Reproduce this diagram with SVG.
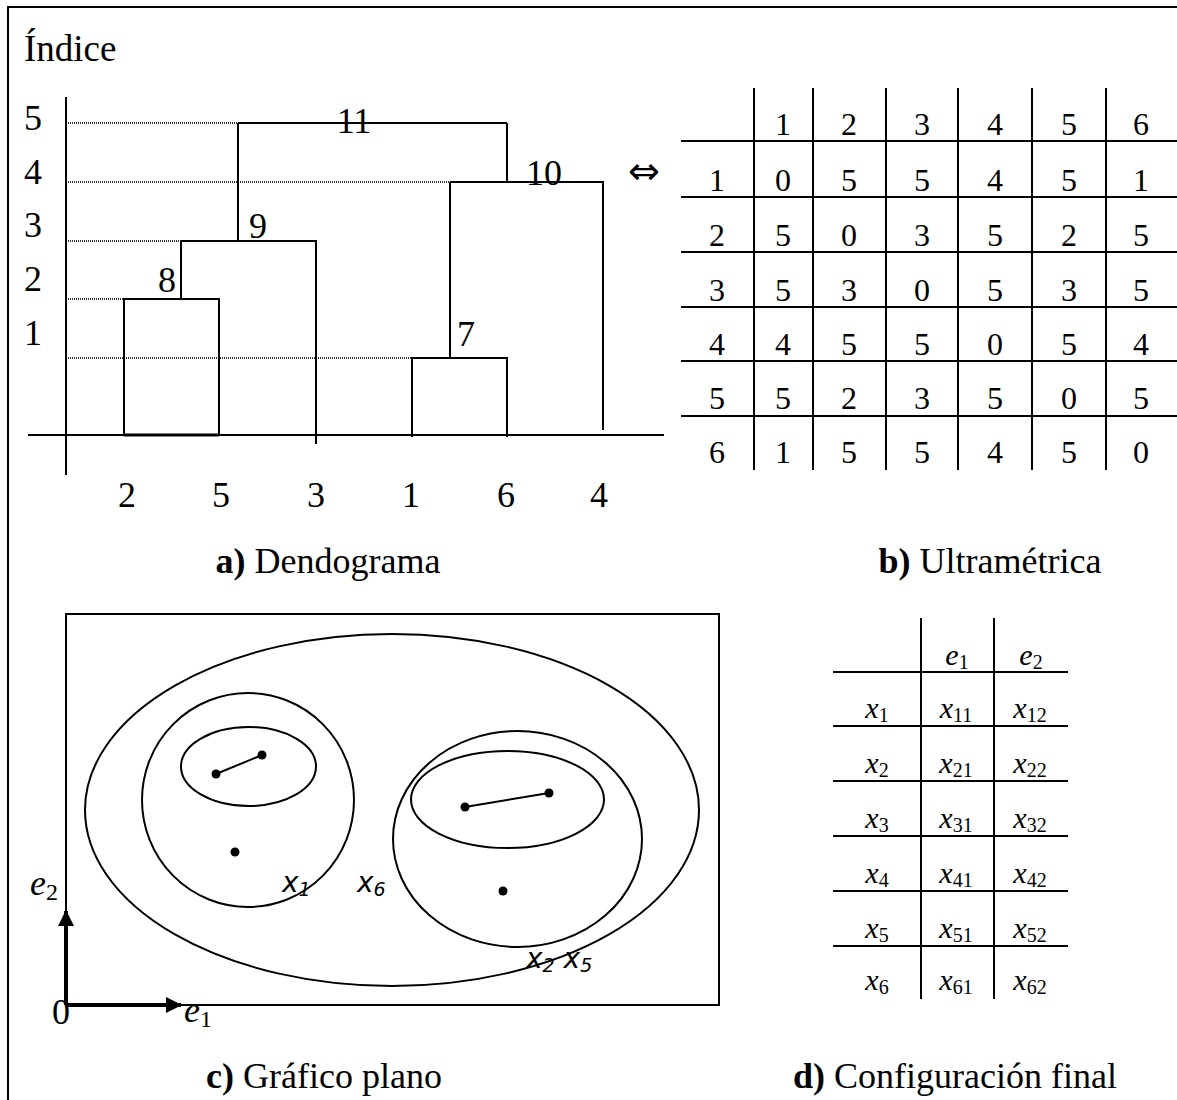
<svg xmlns="http://www.w3.org/2000/svg" width="1177" height="1100" viewBox="0 0 1177 1100">
<style>
.t{font-family:"Liberation Serif","Times New Roman",serif;fill:#000}
.big{font-size:36px}
.mid{text-anchor:middle}
.tb{font-size:32px;text-anchor:middle}
.ln{stroke:#000;stroke-width:2;fill:none}
.ax{stroke:#000;stroke-width:4;fill:none}
.dot{stroke:#333;stroke-width:2;stroke-dasharray:1 1;fill:none}
.sans{font-family:"DejaVu Sans","Liberation Sans",sans-serif;font-style:italic;font-size:28px;fill:#000}
.it{font-style:italic}
.pt{fill:#000}
</style>
<defs>
<marker id="ah" markerWidth="16" markerHeight="16" refX="15" refY="8" orient="auto" markerUnits="userSpaceOnUse">
<path d="M0,0 L16,8 L0,16 z" fill="#000"/>
</marker>
</defs>
<rect width="1177" height="1100" fill="#fff"/>
<path class="ln" d="M8,1100 V7 H1177"/>

<!-- a) Dendrogram -->
<g id="dendrogram">
<text class="t" font-size="37" x="24" y="61">Índice</text>
<g id="y-axis-labels" class="t big">
<text x="24" y="130">5</text>
<text x="24" y="184">4</text>
<text x="24" y="237">3</text>
<text x="24" y="291">2</text>
<text x="24" y="345">1</text>
</g>
<g id="levels">
<path class="dot" d="M66,123 H238"/>
<path class="dot" d="M66,182 H450"/>
<path class="dot" d="M66,241 H181"/>
<path class="dot" d="M66,299 H124"/>
<path class="dot" d="M66,358 H412"/>
</g>
<g id="axes">
<path class="ln" d="M28,435 H664"/>
<path class="ln" d="M66,97 V475"/>
</g>
<g id="connectors">
<g id="node8"><path class="ln" d="M124,435 V299 H219 V435"/><path class="ln" d="M181,299 V241"/><path stroke="#000" stroke-width="3" d="M124,435 H219"/><text class="t big mid" x="167" y="292">8</text></g>
<g id="node9"><path class="ln" d="M181,241 H316 V444"/><path class="ln" d="M238,241 V123"/><text class="t big mid" x="258" y="238">9</text></g>
<g id="node7"><path class="ln" d="M412,437 V358 H507 V437"/><path class="ln" d="M450,358 V182"/><text class="t big mid" x="466" y="346">7</text></g>
<g id="node10"><path class="ln" d="M450,182 H603 V430"/><path class="ln" d="M507,182 V123"/><text class="t big mid" x="544" y="185">10</text></g>
<g id="node11"><path class="ln" d="M238,123 H507"/><text class="t big mid" x="354" y="133">11</text></g>
</g>
<g id="leaves" class="t big mid">
<text x="127" y="507">2</text>
<text x="221" y="507">5</text>
<text x="316" y="507">3</text>
<text x="411" y="507">1</text>
<text x="506" y="507">6</text>
<text x="599" y="507">4</text>
</g>
<text class="t big mid" x="328" y="573"><tspan font-weight="bold">a)</tspan> Dendograma</text>
</g>

<text class="mid" font-family="DejaVu Sans, sans-serif" font-size="38" x="644" y="184">⇔</text>

<!-- b) Ultrametric table -->
<g id="ultrametrica">
<g id="grid-b">
<path class="ln" d="M681,141 H1177 M681,197 H1177 M681,252 H1177 M681,307 H1177 M681,361 H1177 M681,416 H1177"/>
<path class="ln" d="M754,88 V470 M813,88 V470 M886,88 V470 M958,88 V470 M1032,88 V470 M1106,88 V470"/>
</g>
<g class="t tb">
<text x="783" y="135">1</text><text x="849" y="135">2</text><text x="922" y="135">3</text><text x="995" y="135">4</text><text x="1069" y="135">5</text><text x="1141" y="135">6</text>
<text x="717" y="191">1</text><text x="783" y="191">0</text><text x="849" y="191">5</text><text x="922" y="191">5</text><text x="995" y="191">4</text><text x="1069" y="191">5</text><text x="1141" y="191">1</text>
<text x="717" y="246">2</text><text x="783" y="246">5</text><text x="849" y="246">0</text><text x="922" y="246">3</text><text x="995" y="246">5</text><text x="1069" y="246">2</text><text x="1141" y="246">5</text>
<text x="717" y="301">3</text><text x="783" y="301">5</text><text x="849" y="301">3</text><text x="922" y="301">0</text><text x="995" y="301">5</text><text x="1069" y="301">3</text><text x="1141" y="301">5</text>
<text x="717" y="355">4</text><text x="783" y="355">4</text><text x="849" y="355">5</text><text x="922" y="355">5</text><text x="995" y="355">0</text><text x="1069" y="355">5</text><text x="1141" y="355">4</text>
<text x="717" y="409">5</text><text x="783" y="409">5</text><text x="849" y="409">2</text><text x="922" y="409">3</text><text x="995" y="409">5</text><text x="1069" y="409">0</text><text x="1141" y="409">5</text>
<text x="717" y="463">6</text><text x="783" y="463">1</text><text x="849" y="463">5</text><text x="922" y="463">5</text><text x="995" y="463">4</text><text x="1069" y="463">5</text><text x="1141" y="463">0</text>
</g>
<text class="t big mid" x="990" y="573"><tspan font-weight="bold">b)</tspan> Ultramétrica</text>
</g>

<!-- c) Plane graph -->
<g id="grafico">
<rect class="ln" x="66" y="614" width="653" height="391"/>
<g id="cluster-all"><ellipse class="ln" cx="392" cy="810" rx="307" ry="176"/></g>
<g id="cluster-left">
<ellipse class="ln" cx="248" cy="800" rx="106" ry="107"/>
<ellipse class="ln" cx="248.5" cy="766.5" rx="67.5" ry="39.5"/>
<path class="ln" d="M216,774 L262,755"/>
<circle class="pt" cx="216" cy="774" r="4.5"/>
<circle class="pt" cx="262" cy="755" r="4.5"/>
<circle class="pt" cx="235" cy="852" r="4.5"/>
</g>
<g id="cluster-right">
<ellipse class="ln" cx="517.5" cy="839" rx="124.5" ry="108"/>
<ellipse class="ln" cx="507.5" cy="799.5" rx="96.5" ry="48.5"/>
<path class="ln" d="M465,807 L549,793"/>
<circle class="pt" cx="465" cy="807" r="4.5"/>
<circle class="pt" cx="549" cy="793" r="4.5"/>
<circle class="pt" cx="503" cy="891" r="4.5"/>
</g>
<g id="point-labels">
<text class="sans" x="282" y="892">x<tspan font-size="19" dy="4">1</tspan></text>
<text class="sans" x="357" y="892">x<tspan font-size="19" dy="4">6</tspan></text>
<text class="sans" x="526" y="968">x<tspan font-size="19" dy="4">2</tspan><tspan dy="-4"> x</tspan><tspan font-size="19" dy="4">5</tspan></text>
</g>
<g id="axes-c">
<path class="ax" d="M66,1005 V911" marker-end="url(#ah)"/>
<path class="ax" d="M66,1005 H181" marker-end="url(#ah)"/>
<text class="t" font-size="36" x="30" y="895"><tspan class="it">e</tspan><tspan font-size="24" dy="5">2</tspan></text>
<text class="t" font-size="36" x="52" y="1024">0</text>
<text class="t" font-size="36" x="184" y="1022"><tspan class="it">e</tspan><tspan font-size="24" dy="5">1</tspan></text>
</g>
<text class="t big mid" x="324" y="1088"><tspan font-weight="bold">c)</tspan> Gráfico plano</text>
</g>

<!-- d) Final configuration -->
<g id="configuracion">
<g id="grid-d">
<path class="ln" d="M921,618 V999 M994,618 V999"/>
<path class="ln" d="M833,672 H1068 M833,726 H1068 M833,781 H1068 M833,836 H1068 M833,891 H1068 M833,946 H1068"/>
</g>
<g class="t mid" font-size="30">
<text x="957" y="665"><tspan class="it">e</tspan><tspan font-size="20" dy="4">1</tspan></text>
<text x="1031" y="665"><tspan class="it">e</tspan><tspan font-size="20" dy="4">2</tspan></text>
<text x="877" y="718"><tspan class="it">x</tspan><tspan font-size="20" dy="4">1</tspan></text>
<text x="956" y="718"><tspan class="it">x</tspan><tspan font-size="20" dy="4">11</tspan></text>
<text x="1030" y="718"><tspan class="it">x</tspan><tspan font-size="20" dy="4">12</tspan></text>
<text x="877" y="773"><tspan class="it">x</tspan><tspan font-size="20" dy="4">2</tspan></text>
<text x="956" y="773"><tspan class="it">x</tspan><tspan font-size="20" dy="4">21</tspan></text>
<text x="1030" y="773"><tspan class="it">x</tspan><tspan font-size="20" dy="4">22</tspan></text>
<text x="877" y="828"><tspan class="it">x</tspan><tspan font-size="20" dy="4">3</tspan></text>
<text x="956" y="828"><tspan class="it">x</tspan><tspan font-size="20" dy="4">31</tspan></text>
<text x="1030" y="828"><tspan class="it">x</tspan><tspan font-size="20" dy="4">32</tspan></text>
<text x="877" y="883"><tspan class="it">x</tspan><tspan font-size="20" dy="4">4</tspan></text>
<text x="956" y="883"><tspan class="it">x</tspan><tspan font-size="20" dy="4">41</tspan></text>
<text x="1030" y="883"><tspan class="it">x</tspan><tspan font-size="20" dy="4">42</tspan></text>
<text x="877" y="938"><tspan class="it">x</tspan><tspan font-size="20" dy="4">5</tspan></text>
<text x="956" y="938"><tspan class="it">x</tspan><tspan font-size="20" dy="4">51</tspan></text>
<text x="1030" y="938"><tspan class="it">x</tspan><tspan font-size="20" dy="4">52</tspan></text>
<text x="877" y="990"><tspan class="it">x</tspan><tspan font-size="20" dy="4">6</tspan></text>
<text x="956" y="990"><tspan class="it">x</tspan><tspan font-size="20" dy="4">61</tspan></text>
<text x="1030" y="990"><tspan class="it">x</tspan><tspan font-size="20" dy="4">62</tspan></text>
</g>
<text class="t big mid" x="955" y="1088"><tspan font-weight="bold">d)</tspan> Configuración final</text>
</g>
</svg>
